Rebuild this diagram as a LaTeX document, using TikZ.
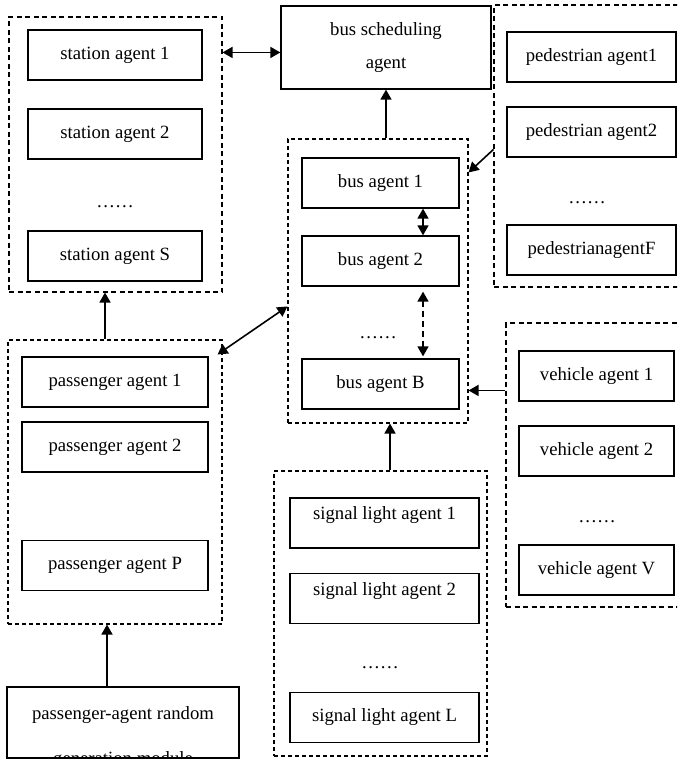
\documentclass[tikz,border=0pt]{standalone}
\usepackage{fontspec}
\setmainfont{Liberation Serif}
\usetikzlibrary{arrows.meta}
\begin{document}
\begin{tikzpicture}[x=1pt,y=-1pt,
  txt/.style={font=\fontsize{18.7}{33}\selectfont},
  agentbox/.style={txt, draw, line width=1.3pt, inner sep=0pt, minimum height=50pt},
  group/.style={draw, line width=1.1pt, dash pattern=on 5pt off 3.5pt, inner sep=0pt},
  groupb/.style={draw, line width=1.1pt, dash pattern=on 4pt off 3pt, inner sep=0pt},
  arr/.style={line width=1.6pt, -{Triangle[length=10pt,width=11pt]}},
  dbl/.style={line width=1.6pt, {Triangle[length=10pt,width=11pt]}-{Triangle[length=10pt,width=11pt]}},
  dotsnode/.style={txt, inner sep=0pt},
  raised/.style={text height=13pt, text depth=20pt}
]
\useasboundingbox (0,0) rectangle (677,759);
\clip (0,0) rectangle (677,759);

% group boxes
\node[group, minimum width=213pt, minimum height=275pt] (stG) at (115.5,154.5) {};
\node[group, minimum width=206pt, minimum height=282pt] (pedG) at (597,146) {};
\node[groupb, minimum width=180pt, minimum height=284pt] (busG) at (378,281) {};
\node[groupb, minimum width=214pt, minimum height=284pt] (pasG) at (115,482) {};
\node[groupb, minimum width=213pt, minimum height=285pt] (sigG) at (380.5,613.5) {};
\node[group, minimum width=194pt, minimum height=284pt] (vehG) at (603,465) {};

% station agents
\node[agentbox, minimum width=174pt] (st1) at (115,55) {station agent 1};
\node[agentbox, minimum width=174pt] (st2) at (115,134) {station agent 2};
\node[dotsnode] (stdots) at (115,207) {……};
\node[agentbox, minimum width=174pt] (stS) at (115,256) {station agent S};

% bus scheduling
\node[agentbox, minimum width=210pt, minimum height=83pt, align=center] (sched) at (386,47.5) {bus scheduling\\agent};

% pedestrian agents
\node[agentbox, minimum width=169pt] (ped1) at (591.5,57) {pedestrian agent1};
\node[agentbox, minimum width=169pt] (ped2) at (591.5,132) {pedestrian agent2};
\node[dotsnode] (peddots) at (587,203) {……};
\node[agentbox, minimum width=169pt] (pedF) at (591.5,250) {pedestrianagentF};

% bus agents
\node[agentbox, minimum width=157pt] (bus1) at (380.5,183) {bus agent 1};
\node[agentbox, minimum width=157pt] (bus2) at (380.5,261) {bus agent 2};
\node[dotsnode] (busdots) at (378,338) {……};
\node[agentbox, minimum width=157pt] (busB) at (380.5,384) {bus agent B};

% passenger agents
\node[agentbox, minimum width=186pt] (pas1) at (115,382) {passenger agent 1};
\node[agentbox, minimum width=186pt] (pas2) at (115,447) {passenger agent 2};
\node[agentbox, minimum width=186pt] (pasP) at (115,565.5) {passenger agent P};

% signal light agents
\node[agentbox, raised, minimum width=189pt] (sig1) at (384.5,523) {signal light agent 1};
\node[agentbox, raised, minimum width=189pt] (sig2) at (384.5,598.5) {signal light agent 2};
\node[dotsnode] (sigdots) at (380,668) {……};
\node[agentbox, minimum width=189pt] (sigL) at (384.5,717.5) {signal light agent L};

% vehicle agents
\node[agentbox, minimum width=155pt] (veh1) at (596.5,376) {vehicle agent 1};
\node[agentbox, minimum width=155pt] (veh2) at (596.5,451) {vehicle agent 2};
\node[dotsnode] (vehdots) at (597,522) {……};
\node[agentbox, minimum width=155pt] (vehV) at (596.5,570) {vehicle agent V};

% generation module
\node[draw, line width=1.3pt, inner sep=0pt, minimum width=232pt, minimum height=71pt] (mod) at (123,722.5) {};
\begin{scope}
  \clip ([xshift=0.6pt,yshift=0.6pt]mod.south west) rectangle ([xshift=-0.6pt,yshift=-0.6pt]mod.north east);
  \node[txt, anchor=base, inner sep=0pt] (modt1) at (123,719) {passenger-agent random};
  \node[txt, anchor=base, inner sep=0pt] (modt2) at (123,764) {generation module};
\end{scope}

% connectors
\coordinate (a1) at ([yshift=-36pt]stG.north east);
\draw[dbl] (a1) -- (a1 -| sched.west);
\draw[arr] (busG.north -| sched.south) -- (sched.south);
\draw[arr] ([yshift=-145pt]pedG.north west) -- ([yshift=-34pt]busG.north east);
\draw[dbl] ([xshift=42.5pt]bus1.south) -- ([xshift=42.5pt]bus2.north);
\draw[dbl, dash pattern=on 6pt off 4pt] ([xshift=42.5pt,yshift=-5pt]bus2.south) -- ([xshift=42.5pt,yshift=2pt]busB.north);
\draw[dbl] ([xshift=-5pt,yshift=-15pt]pasG.north east) -- ([yshift=-168pt]busG.north west);
\draw[arr] ([xshift=-10pt]pasG.north) -- ([xshift=-10.5pt]stG.south);
\draw[arr] ([xshift=-16pt]mod.north) -- ([xshift=-8pt]pasG.south);
\draw[arr] ([xshift=9.5pt]sigG.north) -- ([xshift=12pt]busG.south);
\coordinate (v1) at ([yshift=-68pt]vehG.north west);
\draw[arr] (v1) -- (v1 -| busG.east);
\end{tikzpicture}
\end{document}
